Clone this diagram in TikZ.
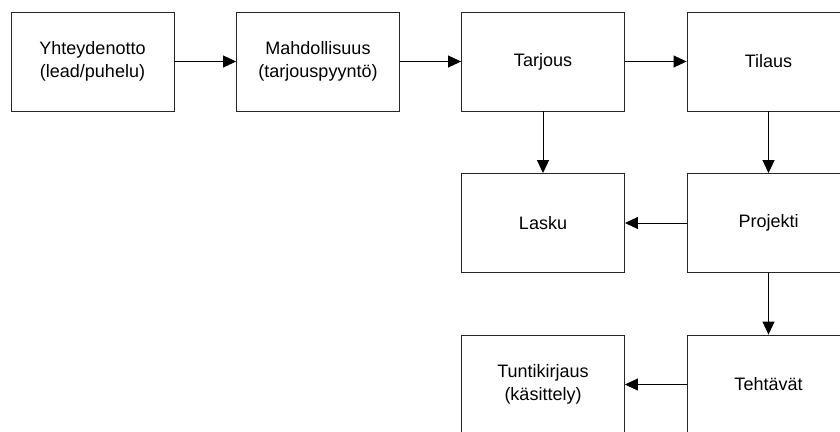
\documentclass[tikz,border=0pt]{standalone}
\usepackage{fontspec}
\setmainfont{Liberation Sans}
\usetikzlibrary{arrows.meta}
\begin{document}
\begin{tikzpicture}[x=1pt,y=-1pt,
  stagebox/.style={draw=black!85, line width=0.9pt, minimum width=163pt, minimum height=99pt,
    inner sep=0pt, align=center, font=\fontsize{18}{22.5}\selectfont},
  flow/.style={draw=black, line width=0.9pt, -{Triangle[length=13pt,width=12pt]}}]
\useasboundingbox (0,0) rectangle (840,431);
\clip (0,0) rectangle (840,431);
% top row: sales pipeline
\node[stagebox] (lead)  at (92.5,61.5) {Yhteydenotto\\(lead/puhelu)};
\node[stagebox] (opp)   at (318,61.5)  {Mahdollisuus\\(tarjouspyyntö)};
\node[stagebox] (offer) at (543,61.5)  {Tarjous};
\node[stagebox] (order) at (768.5,61.5) {Tilaus};
% second row
\node[stagebox] (invoice) at (543,223)   {Lasku};
\node[stagebox] (project) at (768.5,223) {Projekti};
% third row
\node[stagebox] (hours) at (543,384.5)   {Tuntikirjaus\\(käsittely)};
\node[stagebox] (tasks) at (768.5,384.5) {Tehtävät};
% connectors
\draw[flow] (lead) -- (opp);
\draw[flow] (opp) -- (offer);
\draw[flow] (offer) -- (order);
\draw[flow] (offer) -- (invoice);
\draw[flow] (order) -- (project);
\draw[flow] (project) -- (invoice);
\draw[flow] (project) -- (tasks);
\draw[flow] (tasks) -- (hours);
\end{tikzpicture}
\end{document}
